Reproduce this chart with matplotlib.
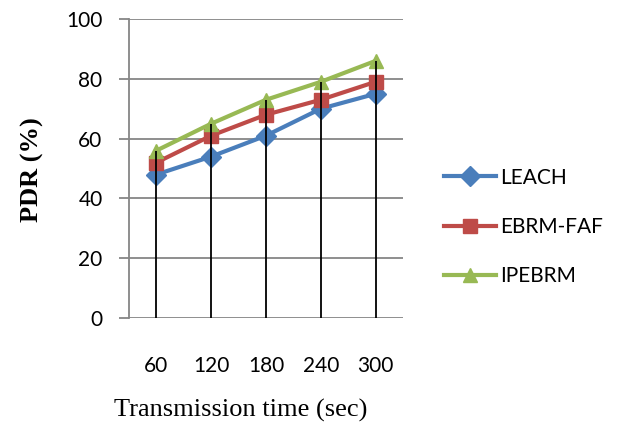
import numpy as np
import matplotlib.pyplot as plt
import matplotlib as mpl
mpl.rc("font", family="Lato", size=15)
mpl.rc("figure", facecolor="w")

# ----- data -----
times = ["60", "120", "180", "240", "300"]
leach = [48, 54, 61, 70, 75]
ebrm_faf = [52, 61, 68, 73, 79]
ipebrm = [56, 65, 73, 79, 86]
yticks = [0, 20, 40, 60, 80, 100]

series = [("LEACH", leach, "#4A7EBB", "D"),
          ("EBRM-FAF", ebrm_faf, "#BE4B48", "s"),
          ("IPEBRM", ipebrm, "#98B954", "^")]

gridcolor = "#868686"

fig = plt.figure(figsize=(6.25, 4.23), dpi=100)
ax = fig.add_axes([0.2064, 0.2482, 0.4384, 0.7068])

x = np.arange(len(times))
for label, vals, color, marker in series:
    ax.plot(x, vals, color=color, lw=3, marker=marker, markersize=10,
            markeredgecolor=color, label=label, zorder=3, clip_on=False)

# drop lines from 0 up to highest series
top = np.max(np.array([leach, ebrm_faf, ipebrm]), axis=0)
ax.vlines(x, 0, top, color="k", lw=1.3, zorder=4)

ax.set_xlim(-0.5, len(times) - 0.5)
ax.set_ylim(0, 100)
ax.set_yticks(yticks)
ax.set_xticks(x)
ax.set_xticklabels(times)
ax.yaxis.grid(True, color=gridcolor, lw=1.3)
ax.set_axisbelow(True)

for side in ["top", "right", "bottom"]:
    ax.spines[side].set_visible(False)
ax.spines["left"].set_color(gridcolor)
ax.spines["left"].set_linewidth(1.3)
ax.tick_params(axis="y", length=7, width=1.3, color=gridcolor, pad=12)
ax.tick_params(axis="x", length=0, pad=27)

fig.text(0.052, 0.6, "PDR (%)", family="Liberation Serif", fontweight="bold",
         fontsize=19, rotation=90, ha="center", va="center")
fig.text(0.385, 0.03, "Transmission time (sec)", family="Liberation Serif",
         fontsize=19, ha="center", va="center")

ax.legend(loc="center left", bbox_to_anchor=(1.08, 0.305), frameon=False,
          handlelength=2.5, labelspacing=1.4, handletextpad=0.2, fontsize=15)

plt.savefig("out.png", dpi=100)
